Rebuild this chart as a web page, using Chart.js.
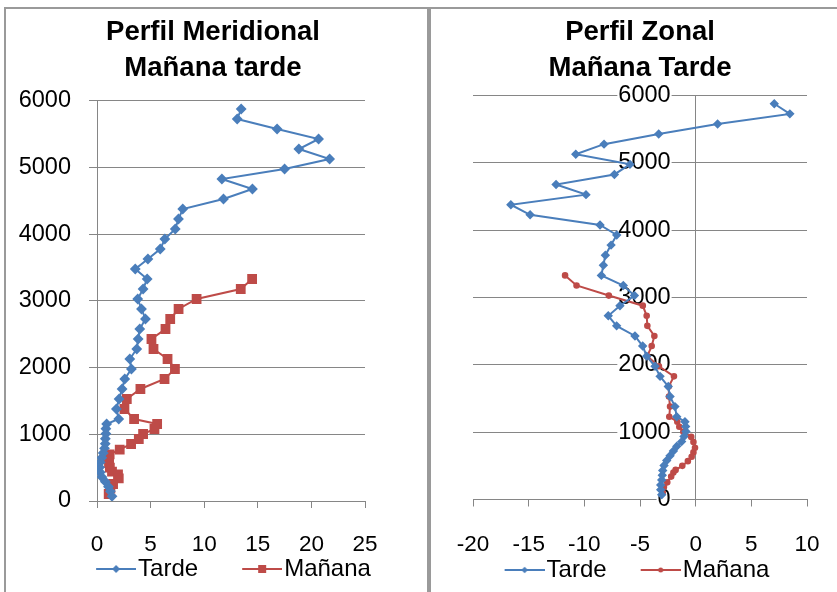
<!DOCTYPE html>
<html>
<head>
<meta charset="utf-8">
<script src="https://cdn.jsdelivr.net/npm/chart.js"></script>
<style>
  body { margin:0; background:#fff; width:837px; height:592px; overflow:hidden; position:relative; }
  .frame { position:absolute; border:2px solid #9a9a9a; border-bottom:none; }
  #frameL { left:4px; top:7px; width:421px; height:600px; }
  #frameR { left:429px; top:7px; width:420px; height:600px; border-right:none; }
  canvas { position:absolute; }
  #meridional { left:6px; top:9px; }
  #zonal { left:430px; top:9px; }
</style>
</head>
<body>
<div class="frame" id="frameL"></div>
<div class="frame" id="frameR"></div>
<canvas id="meridional" width="422" height="583"></canvas>
<canvas id="zonal" width="407" height="583"></canvas>
<script>
// alturas (m) del sondeo de la tarde
const tardeAltura = [5880,5730,5580,5430,5280,5130,4980,4830,4680,4530,4380,4230,4080,3930,3780,3630,
  3480,3330,3180,3030,2880,2730,2580,2430,2280,2130,1980,1830,1680,1530,1380,1230,
  1155,1085,1010,935,860,790,720,650,580,505,430,360,290,215,145,70];
const tardeMeridional = [13.45,13.08,16.8,20.67,18.83,21.7,17.5,11.65,14.5,11.8,8.0,7.6,7.3,6.33,5.9,4.75,
  3.57,4.68,4.3,3.8,4.15,4.52,3.99,3.84,3.71,3.06,3.21,2.59,2.34,2.06,1.81,2.03,
  0.9,0.83,0.83,0.78,0.77,0.7,0.58,0.45,0.3,0.25,0.3,0.45,0.78,1.07,1.25,1.4];
const tardeZonal = [7.06,8.46,1.97,-3.32,-8.23,-10.77,-5.9,-7.3,-12.54,-9.85,-16.6,-14.87,-8.59,-7.09,-7.6,-8.11,
  -8.29,-8.47,-6.5,-5.5,-6.8,-7.85,-7.1,-5.45,-4.76,-4.4,-3.65,-3.2,-2.46,-2.3,-1.86,-1.7,
  -0.96,-0.9,-0.87,-1.05,-1.26,-1.7,-2.0,-2.3,-2.6,-2.84,-2.96,-3.0,-3.05,-3.14,-3.14,-3.05];

// alturas (m) del sondeo de la mañana
const mananaAltura = [3330,3180,3030,2880,2730,2580,2430,2280,2130,1980,1830,1680,1530,1380,1230,
  1155,1080,1005,930,855,770,700,635,570,500,440,400,340,255,185,105];
const mananaMeridional = [14.47,13.41,9.29,7.61,6.83,6.39,5.08,5.27,6.58,7.27,6.3,4.05,2.78,2.56,3.46,
  5.61,5.36,4.3,3.9,3.18,2.12,1.18,1.12,1.12,1.2,1.4,1.96,2.03,1.5,1.25,1.09];
const mananaZonal = [-11.73,-10.7,-7.8,-4.75,-4.4,-4.34,-3.71,-3.95,-4.35,-3.3,-1.95,-2.42,-2.4,-2.3,-2.37,
  -1.65,-1.47,-1.11,-0.4,-0.2,-0.06,-0.2,-0.36,-0.7,-1.2,-1.8,-2.0,-2.2,-2.55,-2.85,-2.96];

const alturaTicks = [0,1000,2000,3000,4000,5000,6000];
const meridionalTicks = [0,5,10,15,20,25];
const zonalTicks = [-20,-15,-10,-5,0,5,10];

const AZUL = "#4A7EBB", ROJO = "#BE4B48", GRIS = "#868686";
const TXT = "'Liberation Sans', Arial, sans-serif";

function pts(xs, ys){ return ys.map((h,i)=>({x:xs[i], y:h})); }

// icono de leyenda estilo Excel: linea con marcador (margen transparente a la izquierda)
function legendIcon(color, kind, r, total){
  const lw=40, h=14, c=document.createElement("canvas");
  c.width=total; c.height=h;
  const g=c.getContext("2d"), x0=total-lw, cx=x0+lw/2, cy=h/2;
  g.strokeStyle=color; g.lineWidth=2;
  g.beginPath(); g.moveTo(x0,cy); g.lineTo(total,cy); g.stroke();
  g.fillStyle=color;
  g.beginPath();
  if(kind==="diamond"){ g.moveTo(cx,cy-r); g.lineTo(cx+r,cy); g.lineTo(cx,cy+r); g.lineTo(cx-r,cy); g.closePath(); }
  else if(kind==="square"){ g.rect(cx-r,cy-r,2*r,2*r); }
  else { g.arc(cx,cy,r,0,Math.PI*2); }
  g.fill();
  return c;
}

function legendOpts(icons, boxW){
  return {
    position:"bottom", fullSize:true,
    labels:{
      usePointStyle:true, pointStyleWidth:boxW, padding:3, color:"#000",
      font:{family:TXT, size:24},
      generateLabels(chart){
        const items=Chart.defaults.plugins.legend.labels.generateLabels(chart);
        items.forEach((it,i)=>{ it.pointStyle=icons[i]; });
        return items;
      }
    }
  };
}

function titleOpts(lines, padBottom, full){
  return { display:true, text:lines, color:"#000", fullSize:full,
    font:{family:TXT, size:27.5, weight:"bold", lineHeight:1.309},
    padding:{top:5, bottom:padBottom} };
}

function tickList(vals){ return s=>{ s.ticks=vals.map(v=>({value:v})); }; }
const plain = v=>String(v);
function spacer(pos, w){
  return { type:"linear", axis:"y", position:pos, display:true,
    grid:{display:false, drawTicks:false}, border:{display:false}, ticks:{display:false},
    afterFit:s=>{ s.width=w; } };
}
function xFit(h){ return s=>{ s.height=h; s.paddingLeft=0; s.paddingRight=0; }; }

new Chart(document.getElementById("meridional"), {
  type:"scatter",
  data:{ datasets:[
    { label:"Tarde", data:pts(tardeMeridional,tardeAltura), showLine:true, borderColor:AZUL, backgroundColor:AZUL,
      borderWidth:2, pointStyle:"rectRot", pointRadius:4, pointHoverRadius:4, tension:0, yAxisID:"y" },
    { label:"Mañana", data:pts(mananaMeridional,mananaAltura), showLine:true, borderColor:ROJO, backgroundColor:ROJO,
      borderWidth:2, pointStyle:"rect", pointRadius:5.5, pointHoverRadius:5.5, tension:0, yAxisID:"y" }
  ]},
  options:{
    responsive:false, animation:false,
    layout:{ padding:{left:0, right:8, top:0, bottom:1} },
    plugins:{
      title:titleOpts(["Perfil Meridional","Mañana tarde"],15,true),
      legend:legendOpts([legendIcon(AZUL,"diamond",4,91),legendIcon(ROJO,"square",4,91)],71),
      tooltip:{enabled:false}
    },
    scales:{
      x:{ type:"linear", min:0, max:25, afterBuildTicks:tickList(meridionalTicks),
        grid:{drawOnChartArea:false, color:GRIS, tickLength:7},
        border:{color:GRIS},
        ticks:{color:"#000", font:{family:TXT, size:22.5}, padding:23.5, maxRotation:0, callback:plain},
        afterFit:xFit(53) },
      y:{ type:"linear", position:"left", min:0, max:6000, afterBuildTicks:tickList(alturaTicks),
        grid:{color:GRIS, tickLength:8},
        border:{color:GRIS},
        ticks:{color:"#000", font:{family:TXT, size:23.5}, padding:18, callback:plain},
        afterFit:s=>{ s.width=91; } },
      yPadR:spacer("right",55)
    }
  }
});

new Chart(document.getElementById("zonal"), {
  type:"scatter",
  data:{ datasets:[
    { label:"Tarde", data:pts(tardeZonal,tardeAltura), showLine:true, borderColor:AZUL, backgroundColor:AZUL, yAxisID:"y",
      borderWidth:2, pointStyle:"rectRot", pointRadius:3.3, pointHoverRadius:3.3, tension:0 },
    { label:"Mañana", data:pts(mananaZonal,mananaAltura), showLine:true, borderColor:ROJO, backgroundColor:ROJO, yAxisID:"y",
      borderWidth:2, pointStyle:"circle", pointRadius:2.3, pointHoverRadius:2.3, tension:0 }
  ]},
  options:{
    responsive:false, animation:false,
    layout:{ padding:{left:0, right:24, top:0, bottom:0} },
    plugins:{
      title:titleOpts(["Perfil Zonal","Mañana Tarde"],9.7,false),
      legend:legendOpts([legendIcon(AZUL,"diamond",3.3,81),legendIcon(ROJO,"circle",2.5,81)],61),
      tooltip:{enabled:false}
    },
    scales:{
      x:{ type:"linear", min:-20, max:10, afterBuildTicks:tickList(zonalTicks),
        grid:{drawOnChartArea:false, color:GRIS, tickLength:7},
        border:{color:GRIS},
        ticks:{color:"#000", font:{family:TXT, size:22.5}, padding:25, maxRotation:0, callback:plain},
        afterFit:xFit(55.5) },
      yPadL:spacer("left",43),
      yPadR:spacer("right",6),
      y:{ type:"linear", position:{x:0}, min:0, max:6000, afterBuildTicks:tickList(alturaTicks),
        grid:{color:GRIS, drawTicks:false},
        border:{color:GRIS},
        ticks:{display:false} },
      y2:{ type:"linear", axis:"y", position:{x:-2.25}, min:0, max:6000, z:1, afterBuildTicks:tickList(alturaTicks),
        grid:{display:false, tickLength:8},
        border:{display:false},
        ticks:{color:"#000", font:{family:TXT, size:23.5}, padding:17, callback:plain,
          showLabelBackdrop:true, backdropColor:"#fff", backdropPadding:1} }
    }
  }
});
</script>
</body>
</html>
